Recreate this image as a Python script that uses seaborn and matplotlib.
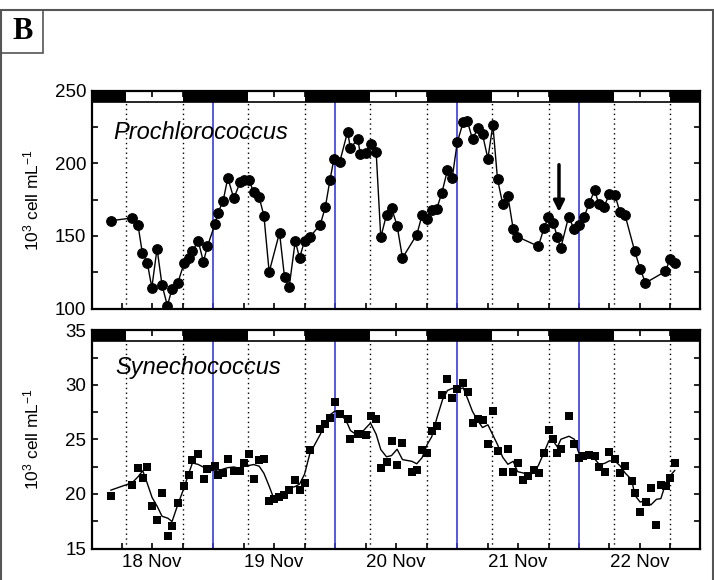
import numpy as np
import pandas as pd
import matplotlib
matplotlib.use('Agg')
import matplotlib.pyplot as plt
import seaborn as sns
from matplotlib.ticker import MultipleLocator, FixedLocator, FixedFormatter
from matplotlib.patches import Rectangle

sns.set_style('ticks')
plt.rcParams['font.family'] = ['Liberation Sans', 'DejaVu Sans']
plt.rcParams['mathtext.fontset'] = 'custom'
plt.rcParams['mathtext.rm'] = 'Liberation Sans'
plt.rcParams['mathtext.it'] = 'Liberation Sans:italic'
plt.rcParams['text.color'] = 'k'
plt.rcParams['axes.labelcolor'] = 'k'
plt.rcParams['xtick.labelcolor'] = 'k'
plt.rcParams['ytick.labelcolor'] = 'k'

# sampling time (day of November) and abundance, 10^3 cell/mL
pro_day = [17.661, 17.838, 17.885, 17.920, 17.961, 17.998, 18.041, 18.082, 18.126, 18.164,
           18.211, 18.263, 18.301, 18.331, 18.378, 18.421, 18.454, 18.517, 18.539, 18.583,
           18.621, 18.670, 18.722, 18.755, 18.794, 18.832, 18.878, 18.917, 18.960, 19.045,
           19.086, 19.124, 19.174, 19.209, 19.250, 19.293, 19.379, 19.420, 19.459, 19.491,
           19.538, 19.603, 19.626, 19.686, 19.708, 19.752, 19.791, 19.837, 19.875, 19.922,
           19.963, 20.009, 20.053, 20.170, 20.214, 20.250, 20.291, 20.334, 20.375, 20.422,
           20.461, 20.502, 20.551, 20.584, 20.627, 20.671, 20.709, 20.753, 20.794, 20.832,
           20.874, 20.917, 20.961, 20.994, 21.167, 21.213, 21.249, 21.290, 21.323, 21.350,
           21.415, 21.459, 21.500, 21.541, 21.585, 21.629, 21.662, 21.705, 21.749, 21.796,
           21.834, 21.878, 21.957, 22.001, 22.045, 22.209, 22.245, 22.286]
pro_val = [160.5, 162.4, 157.4, 138.5, 131.6, 114.4, 141.3, 116.1, 102.0, 113.8,
           117.7, 131.4, 134.9, 139.5, 146.6, 132.3, 142.9, 158.5, 165.6, 174.3,
           189.9, 175.9, 186.9, 188.5, 188.7, 180.3, 176.6, 164.0, 125.2, 152.3,
           121.6, 114.9, 146.6, 134.9, 146.6, 149.2, 157.8, 169.7, 188.7, 203.0,
           200.7, 221.7, 210.5, 216.5, 206.4, 207.3, 213.3, 208.0, 149.1, 164.6,
           169.5, 156.9, 134.9, 150.9, 164.4, 161.9, 168.1, 168.8, 179.4, 195.4,
           190.1, 214.4, 228.4, 229.3, 216.5, 224.1, 219.9, 203.2, 226.4, 189.0,
           172.2, 177.5, 154.6, 149.5, 142.9, 155.5, 163.1, 158.7, 149.1, 141.5,
           163.3, 154.8, 157.8, 162.9, 172.9, 181.4, 172.0, 169.9, 178.9, 178.0,
           166.7, 164.2, 139.5, 127.5, 117.7, 125.7, 134.0, 131.4]

syn_day = [17.661, 17.838, 17.885, 17.924, 17.961, 18.000, 18.041, 18.082, 18.129, 18.164,
           18.211, 18.263, 18.301, 18.331, 18.378, 18.427, 18.454, 18.517, 18.539, 18.583,
           18.621, 18.670, 18.722, 18.755, 18.794, 18.832, 18.878, 18.917, 18.960, 18.999,
           19.043, 19.084, 19.124, 19.174, 19.209, 19.250, 19.293, 19.379, 19.420, 19.459,
           19.497, 19.538, 19.603, 19.626, 19.686, 19.708, 19.752, 19.791, 19.837, 19.875,
           19.922, 19.963, 20.009, 20.053, 20.130, 20.170, 20.214, 20.255, 20.293, 20.337,
           20.381, 20.422, 20.461, 20.502, 20.551, 20.589, 20.627, 20.671, 20.709, 20.753,
           20.794, 20.832, 20.874, 20.917, 20.961, 20.996, 21.043, 21.081, 21.131, 21.169,
           21.216, 21.254, 21.287, 21.323, 21.352, 21.418, 21.462, 21.497, 21.536, 21.579,
           21.629, 21.667, 21.711, 21.749, 21.796, 21.837, 21.878, 21.933, 21.957, 22.001,
           22.048, 22.089, 22.135, 22.171, 22.212, 22.250, 22.286]
syn_val = [19.83, 20.86, 22.42, 21.45, 22.51, 18.94, 17.60, 20.13, 16.13, 17.08,
           19.21, 20.77, 21.78, 23.12, 23.64, 21.36, 22.27, 22.60, 21.72, 21.90,
           23.24, 22.09, 22.09, 22.82, 23.64, 21.36, 23.09, 23.19, 19.40, 19.55,
           19.71, 19.92, 20.38, 21.29, 20.38, 21.04, 24.00, 25.99, 26.39, 26.94,
           28.43, 27.36, 26.90, 25.02, 25.53, 25.50, 25.44, 27.18, 26.88, 22.36,
           22.97, 24.89, 22.69, 24.71, 22.05, 22.21, 24.04, 23.74, 25.78, 26.24,
           29.10, 30.54, 28.83, 29.65, 30.17, 29.35, 26.48, 26.85, 26.79, 24.62,
           27.61, 23.97, 22.00, 24.16, 22.00, 22.82, 21.32, 21.63, 22.23, 21.96,
           23.79, 25.87, 25.02, 23.74, 24.16, 27.15, 24.56, 23.33, 23.52, 23.58,
           23.52, 22.51, 22.05, 23.86, 23.19, 21.96, 22.60, 21.20, 20.10, 18.39,
           19.28, 20.59, 17.11, 20.83, 20.77, 21.45, 22.88]

# light / dark cycle
dawn = [17.79, 18.79, 19.79, 20.79, 21.79]
dusk = [18.25, 19.25, 20.25, 21.25, 22.25]
midnight = [18.5, 19.5, 20.5, 21.5]
day_ticks = [18, 19, 20, 21, 22]
day_labels = ['18 Nov', '19 Nov', '20 Nov', '21 Nov', '22 Nov']

pro = pd.DataFrame({'day': pro_day, 'val': pro_val})
syn = pd.DataFrame({'day': syn_day, 'val': syn_val})
syn['smooth'] = syn['val'].rolling(3, center=True, min_periods=1).mean()

xlim = (17.508, 22.492)
bar_h = 0.05


def dress(ax, ylim, major, minor):
    ax.set_xlim(*xlim)
    ax.set_ylim(*ylim)
    # dark periods as black bar on top
    starts = [xlim[0]] + dusk
    ends = dawn + [xlim[1]]
    for s, e in zip(starts, ends):
        ax.axvspan(s, e, ymin=1 - bar_h, ymax=1, color='k', lw=0, zorder=3)
    ax.plot([0, 1], [1 - bar_h, 1 - bar_h], transform=ax.transAxes, color='k', lw=1.2, zorder=3)
    for d in dawn + dusk:
        ax.axvline(d, ymin=0, ymax=1 - bar_h, color='k', ls=(0, (1, 2.5)), lw=1, zorder=1)
    for d in midnight:
        ax.axvline(d, ymin=0, ymax=1 - bar_h, color='#3c3cdc', lw=1.2, zorder=1)
    ticks = np.arange(17.75, 22.5, 0.25)
    ax.xaxis.set_major_locator(FixedLocator(ticks))
    labs = [day_labels[day_ticks.index(int(t))] if t == int(t) else '' for t in ticks]
    ax.xaxis.set_major_formatter(FixedFormatter(labs))
    ax.yaxis.set_major_locator(MultipleLocator(major))
    ax.yaxis.set_minor_locator(MultipleLocator(minor))
    ax.tick_params(which='both', direction='in', top=True, right=True,
                   length=4.5, width=1.2, labelsize=13.5, color='k', labelcolor='k', pad=4)
    for sp in ax.spines.values():
        sp.set_linewidth(1.6)
        sp.set_color('k')
        sp.set_zorder(5)
    ax.set_xlabel('')
    ax.set_ylabel('10$^3$ cell mL$^{-1}$', fontsize=12.5, color='k')
    ax.yaxis.set_label_coords(-0.083, 0.5)


fig = plt.figure(figsize=(7.14, 5.8), dpi=100)
ax1 = fig.add_axes([0.1289, 0.4678, 0.8515, 0.376])
ax2 = fig.add_axes([0.1289, 0.0543, 0.8515, 0.3762])

sns.lineplot(data=pro, x='day', y='val', ax=ax1, color='k', lw=1, marker='o',
             markersize=7, markeredgecolor='k', markerfacecolor='k', estimator=None,
             sort=False, zorder=2, clip_on=True)
dress(ax1, (100, 250), 50, 25)
ax1.tick_params(axis='x', labelbottom=False)
ax1.text(18.40, 221.5, 'Prochlorococcus', fontsize=17, style='italic', color='k',
         ha='center', va='center')
ax1.annotate('', xy=(21.336, 166.5), xytext=(21.336, 199),
             arrowprops=dict(arrowstyle='-|>', color='k', lw=2.5, mutation_scale=16,
                             shrinkA=0, shrinkB=0))

sns.scatterplot(data=syn, x='day', y='val', ax=ax2, color='k', marker='s', s=36,
                edgecolor='k', linewidth=0, zorder=2)
sns.lineplot(data=syn, x='day', y='smooth', ax=ax2, color='k', lw=1, estimator=None,
             sort=False, zorder=2)
dress(ax2, (15, 35), 5, 2.5)
ax2.text(18.38, 31.6, 'Synechococcus', fontsize=17, style='italic', color='k',
         ha='center', va='center')

# panel frame and letter
fig.add_artist(Rectangle((0.0015, -0.02), 0.997, 1.0028, transform=fig.transFigure,
                         fill=False, ec='#555555', lw=1.5))
fig.add_artist(Rectangle((0.0015, 0.9086), 0.0588, 0.0742, transform=fig.transFigure,
                         fill=False, ec='#555555', lw=1.2))
fig.text(0.031, 0.9457, 'B', fontsize=22, fontweight='bold', family='Liberation Serif',
         color='k', ha='center', va='center')

fig.savefig('out.png', dpi=100)
